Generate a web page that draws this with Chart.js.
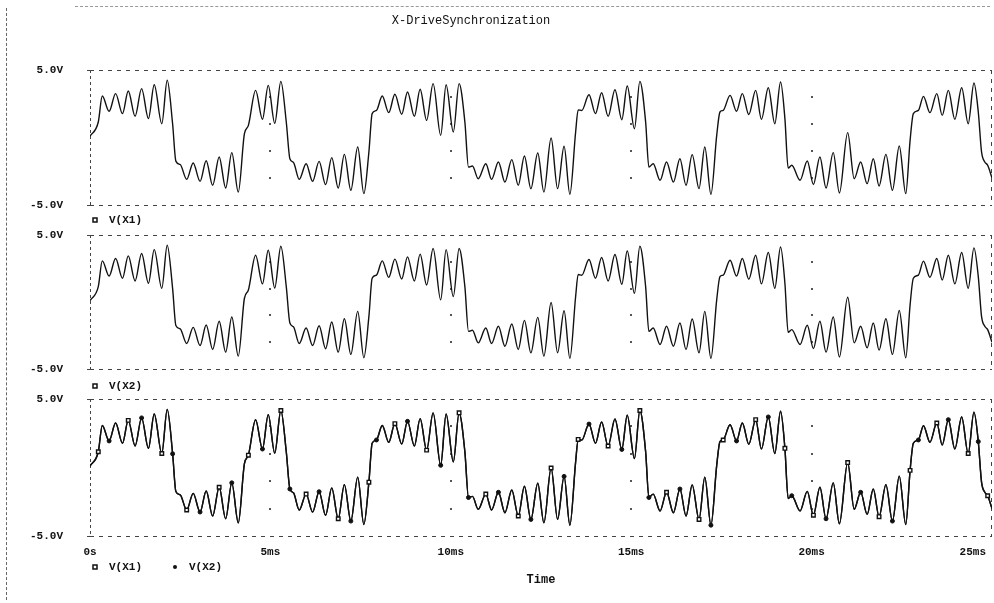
<!DOCTYPE html>
<html>
<head>
<meta charset="utf-8">
<title>X-DriveSynchronization</title>
<script src="https://cdn.jsdelivr.net/npm/chart.js@4.4.0/dist/chart.umd.min.js"></script>
<style>
  html, body { margin: 0; padding: 0; background: #fff; }
  #wrap { position: relative; width: 994px; height: 603px; overflow: hidden; }
  #wrap canvas { position: absolute; left: 0; top: 0; }
  .edge-left { position: absolute; left: 6px; top: 8px; height: 592px; border-left: 1px dashed #666; }
  .edge-top { position: absolute; left: 75px; top: 6px; width: 915px; border-top: 1px dashed #999; }
</style>
</head>
<body>
<div id="wrap">
  <div class="edge-left"></div>
  <div class="edge-top"></div>
  <canvas id="panel1" width="994" height="603"></canvas>
  <canvas id="panel2" width="994" height="603"></canvas>
  <canvas id="panel3" width="994" height="603"></canvas>
</div>
<script>
const chartTitle = 'X-DriveSynchronization';
const timeTitle = 'Time';
const timeTicks = [0, 5, 10, 15, 20, 25];               // ms
const timeTickLabels = ['0s', '5ms', '10ms', '15ms', '20ms', '25ms'];
const voltTicks = [-5, 5];
const gridVolts = [-3, -1, 1, 3];

// peaks / troughs / knees of the waveform (ms)
const timeMs = [
  0.00, 0.23, 0.34, 0.53, 0.71, 0.90, 1.06, 1.25, 1.43, 1.62, 1.78, 1.99, 2.14, 2.29, 2.38, 2.50,
  2.68, 2.86, 3.05, 3.22, 3.40, 3.58, 3.76, 3.93, 4.11, 4.28, 4.39,
  4.59, 4.78, 4.94, 5.12, 5.29, 5.44, 5.54, 5.64,
  5.80, 5.99, 6.17, 6.35, 6.53, 6.70, 6.88, 7.05, 7.23, 7.42, 7.59, 7.73, 7.82, 7.94,
  8.10, 8.28, 8.45, 8.64, 8.80, 8.99, 9.15, 9.33, 9.51, 9.72, 9.87, 10.07, 10.23, 10.39, 10.49, 10.60,
  10.76, 10.97, 11.13, 11.32, 11.50, 11.69, 11.87, 12.04, 12.22, 12.41, 12.58, 12.78, 12.96, 13.14, 13.30, 13.46, 13.53, 13.63,
  13.83, 14.01, 14.18, 14.36, 14.55, 14.74, 14.89, 15.09, 15.24, 15.40, 15.49, 15.61,
  15.80, 15.98, 16.17, 16.35, 16.52, 16.69, 16.88, 17.04, 17.21, 17.37, 17.46, 17.55,
  17.74, 17.92, 18.08, 18.26, 18.45, 18.61, 18.80, 18.98, 19.14, 19.26, 19.35, 19.45,
  19.68, 19.88, 20.05, 20.23, 20.40, 20.60, 20.77, 21.00, 21.18, 21.36, 21.54, 21.71, 21.87, 22.06, 22.24, 22.43, 22.61, 22.73, 22.82, 22.96,
  23.10, 23.28, 23.47, 23.62, 23.79, 23.97, 24.16, 24.34, 24.50, 24.62, 24.71, 24.80, 24.88, 25.00
];
const vX1 = [
  0.10, 1.15, 3.07, 1.94, 3.25, 1.77, 3.44, 1.57, 3.62, 1.40, 3.91, 1.02, 4.24, 1.00, -1.75, -2.00,
  -3.10, -1.89, -3.25, -1.72, -3.54, -1.44, -3.74, -1.12, -4.04, 0.28, 0.90,
  3.49, 1.35, 3.86, 1.05, 4.16, 1.15, -1.57, -1.85,
  -3.10, -1.94, -3.25, -1.77, -3.49, -1.49, -3.74, -1.25, -3.91, -0.70, -4.16, -1.07, 1.77, 2.01,
  3.07, 1.84, 3.20, 1.72, 3.37, 1.57, 3.57, 1.27, 3.99, 0.16, 3.91, 0.41, 3.99, 1.15, -2.19, -2.11,
  -3.05, -1.94, -3.10, -1.81, -3.30, -1.64, -3.54, -1.37, -3.79, -1.15, -4.04, -0.04, -3.79, -0.65, -4.21, 0.41, 2.05, 2.00,
  3.17, 1.77, 3.32, 1.57, 3.54, 1.32, 3.81, 0.65, 4.16, 1.15, -2.19, -1.94,
  -3.17, -1.81, -3.30, -1.57, -3.54, -1.27, -3.79, -0.70, -4.21, 0.16, 1.89, 2.01,
  3.12, 1.94, 3.25, 1.70, 3.49, 1.35, 3.69, 1.02, 4.11, 1.40, -2.26, -2.06,
  -3.17, -1.74, -3.48, -1.44, -3.74, -1.12, -4.11, 0.36, -3.05, -1.81, -3.42, -1.57, -3.59, -1.25, -3.91, -0.63, -4.16, -0.21, 1.77, 2.01,
  3.05, 1.84, 3.25, 1.64, 3.49, 1.35, 3.69, 1.02, 4.04, 1.89, -1.07, -1.81, -2.06, -3.00
];
// V(X2) lies exactly on V(X1) in the picture (synchronized drive)
const vX2 = vX1.slice();

const textFont = '"Liberation Mono", "DejaVu Sans Mono", monospace';

const pspiceDecor = {
  id: 'pspice',
  beforeDatasetsDraw(chart) {
    const { ctx, chartArea: a, scales: { x, y } } = chart;
    ctx.save();
    ctx.strokeStyle = '#444';
    ctx.lineWidth = 1;
    ctx.setLineDash([4, 5]);
    ctx.beginPath();
    ctx.moveTo(a.left, a.top + 0.5); ctx.lineTo(a.right, a.top + 0.5);
    ctx.moveTo(a.left, a.bottom + 0.5); ctx.lineTo(a.right, a.bottom + 0.5);
    ctx.moveTo(a.right - 0.5, a.top); ctx.lineTo(a.right - 0.5, a.bottom);
    ctx.stroke();
    ctx.setLineDash([3, 3]);
    ctx.beginPath();
    ctx.moveTo(a.left + 0.5, a.top); ctx.lineTo(a.left + 0.5, a.bottom);
    ctx.stroke();
    // little ticks at +-5V on the left edge
    ctx.setLineDash([]);
    ctx.beginPath();
    voltTicks.forEach(v => {
      const py = Math.round(y.getPixelForValue(v)) + 0.5;
      ctx.moveTo(a.left - 3, py); ctx.lineTo(a.left + 3, py);
    });
    ctx.stroke();
    // dotted grid
    ctx.fillStyle = '#555';
    timeTicks.slice(1, -1).forEach(t => {
      gridVolts.forEach(v => {
        ctx.fillRect(Math.round(x.getPixelForValue(t)) - 1, Math.round(y.getPixelForValue(v)) - 1, 2, 2);
      });
    });
    ctx.restore();
  },
  afterDraw(chart, args, opts) {
    const { ctx, chartArea: a, scales: { x } } = chart;
    ctx.save();
    ctx.fillStyle = '#111';
    ctx.strokeStyle = '#111';
    ctx.textBaseline = 'middle';

    if (opts.title) {
      ctx.font = '12px ' + textFont;
      ctx.textAlign = 'center';
      ctx.fillText(opts.title, 471, 21);
    }

    ctx.font = 'bold 11px ' + textFont;
    (opts.items || []).forEach(item => {
      ctx.lineWidth = 1.5;
      if (item.style === 'rect') {
        ctx.strokeRect(item.x - 2, opts.legendY - 2, 4, 4);
      } else {
        ctx.beginPath();
        ctx.arc(item.x, opts.legendY, 2, 0, Math.PI * 2);
        ctx.fill();
      }
      ctx.textAlign = 'left';
      ctx.fillText(item.label, item.x + 14, opts.legendY);
    });

    if (opts.timeAxis) {
      ctx.textAlign = 'center';
      timeTicks.forEach((t, i) => {
        const label = timeTickLabels[i];
        const w = ctx.measureText(label).width;
        const px = Math.min(x.getPixelForValue(t), chart.width - 8 - w / 2);
        ctx.fillText(label, px, 552);
      });
      ctx.font = 'bold 12px ' + textFont;
      ctx.fillText(timeTitle, (a.left + a.right) / 2, 580);
    }
    ctx.restore();
  }
};

function toPoints(values) {
  return timeMs.map((t, i) => ({ x: t, y: values[i] }));
}

function lineSet(label, values, extra) {
  return Object.assign({
    label: label,
    data: toPoints(values),
    borderColor: '#111',
    borderWidth: 1.4,
    pointRadius: 0,
    fill: false,
    cubicInterpolationMode: 'monotone'
  }, extra || {});
}

function makePanel(id, top, bottom, datasets, decor) {
  return new Chart(document.getElementById(id), {
    type: 'line',
    data: { datasets: datasets },
    options: {
      responsive: false,
      animation: false,
      devicePixelRatio: 1,
      layout: { padding: { left: 0, right: 2, top: top, bottom: 603 - bottom } },
      scales: {
        x: { type: 'linear', min: 0, max: 25, display: false },
        y: {
          min: -5, max: 5,
          afterBuildTicks: s => { s.ticks = voltTicks.map(v => ({ value: v })); },
          afterFit: s => { s.width = 90; },
          grid: { display: false, drawTicks: false },
          border: { display: false },
          ticks: {
            padding: 27,
            color: '#111',
            font: { family: textFont, size: 11, weight: 'bold' },
            callback: v => v.toFixed(1) + 'V'
          }
        }
      },
      plugins: {
        legend: { display: false },
        tooltip: { enabled: false },
        pspice: decor
      }
    },
    plugins: [pspiceDecor]
  });
}

makePanel('panel1', 70, 205, [lineSet('V(X1)', vX1)], {
  title: chartTitle,
  legendY: 220,
  items: [{ label: 'V(X1)', style: 'rect', x: 95 }]
});

makePanel('panel2', 235, 369, [lineSet('V(X2)', vX2)], {
  legendY: 386,
  items: [{ label: 'V(X2)', style: 'rect', x: 95 }]
});

makePanel('panel3', 399, 536, [
  lineSet('V(X1)', vX1, {
    pointStyle: 'rect',
    pointRadius: c => (c.dataIndex % 5 === 1 ? 2.5 : 0),
    pointBackgroundColor: '#fff',
    pointBorderColor: '#111',
    pointBorderWidth: 1.4
  }),
  lineSet('V(X2)', vX2, {
    pointStyle: 'circle',
    pointRadius: c => (c.dataIndex % 5 === 3 ? 2 : 0),
    pointBackgroundColor: '#111',
    pointBorderColor: '#111',
    pointBorderWidth: 1
  })
], {
  legendY: 567,
  timeAxis: true,
  items: [
    { label: 'V(X1)', style: 'rect', x: 95 },
    { label: 'V(X2)', style: 'dot', x: 175 }
  ]
});
</script>
</body>
</html>
